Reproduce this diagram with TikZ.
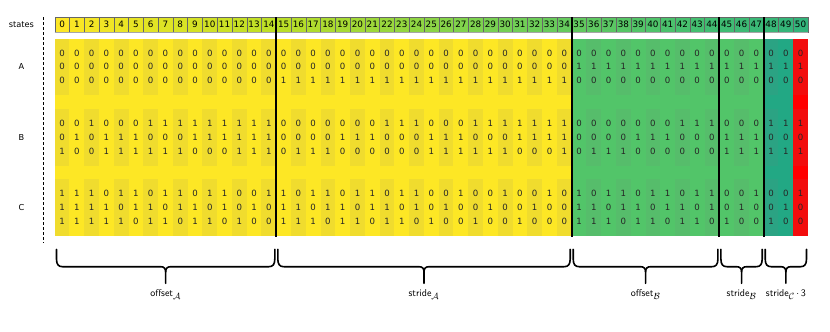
\documentclass[tikz,border=0pt]{standalone}
\usepackage{fontspec}
\newfontfamily\dvs{DejaVu Sans}
\definecolor{vyel}{HTML}{FDE725}
\definecolor{vgrn}{HTML}{52C569}
\definecolor{vteal}{HTML}{22A884}
\definecolor{vred}{HTML}{FF0000}
\definecolor{vv0}{HTML}{FDE725}
\definecolor{vv1}{HTML}{BDDF26}
\definecolor{vv2}{HTML}{7AD151}
\definecolor{vv3}{HTML}{44BF70}
\definecolor{vv4}{HTML}{22A884}
\tikzset{
  digit/.style={font=\dvs\fontsize{8.6}{9}\selectfont, inner sep=0pt, text=black!85},
  hcell/.style={draw=black!60, line width=0.4pt, minimum width=14.77pt, minimum height=15pt, inner sep=0pt, font=\dvs\fontsize{8.8}{9}\selectfont},
  sidelabel/.style={font=\dvs\fontsize{8.2}{9}\selectfont, inner sep=0pt},
  sepline/.style={line width=1.8pt, black},
  bracestyle/.style={line width=1.6pt, black, line cap=round, line join=round},
  bracelabel/.style={font=\sffamily\fontsize{10}{12}\selectfont, inner sep=0pt, anchor=base},
  stripe/.style={fill=black!50, fill opacity=0.1, draw=none}
}
\newcommand\calsub[1]{$_{\mbox{\fontsize{9}{9}\selectfont$\mathcal{#1}$}}$}
\newcommand\digitrow[3]{%
  \foreach \v [count=\c from 0] in {#3} {\node[digit] (#1-\c) at ({54.7+14.77*(\c+0.5)},#2) {\v};}}
\newcommand\drawbrace[4]{% name, left x, right x, label
  \pgfmathsetmacro\bl{#2}\pgfmathsetmacro\br{#3}\pgfmathsetmacro\bm{(#2+#3)/2}
  \coordinate (#1-l) at (\bl,249.3);
  \coordinate (#1-r) at (\br,249.3);
  \coordinate (#1-tip) at (\bm,283.3);
  \draw[bracestyle] (#1-l) -- (\bl,259) .. controls (\bl,264.5) and ({\bl+2},266.7) .. ({\bl+6},266.7)
     -- ({\bm-5},266.7) .. controls ({\bm-1.5},266.7) and (\bm,268.5) .. (\bm,272) -- (#1-tip);
  \draw[bracestyle] (\bm,272) .. controls (\bm,268.5) and ({\bm+1.5},266.7) .. ({\bm+5},266.7)
     -- ({\br-6},266.7) .. controls ({\br-2},266.7) and (\br,264.5) .. (\br,259) -- (#1-r);
  \node[bracelabel] (#1-lab) at (\bm,296.5) {#4};
}
\begin{document}
\begin{tikzpicture}[x=1pt,y=-1pt]
\useasboundingbox (0,0) rectangle (830,332);
% body backgrounds
\fill[vyel] (54.7,39) rectangle (571.7,236);
\fill[vgrn] (571.7,39) rectangle (763.7,236);
\fill[vteal] (763.7,39) rectangle (793.2,236);
\fill[vred] (793.2,39) rectangle (808,236);
% stripes
\foreach \c in {0,2,...,50} {
  \foreach \t in {38.7,109.3,179.3} {
    \fill[stripe] ({54.7+14.77*\c},\t) rectangle ({54.7+14.77*(\c+1)},{\t+56.5});
  }
}
% header
\foreach \c in {0,...,50} {
  \pgfmathsetmacro\s{0.07*\c}
  \pgfmathtruncatemacro\seg{int(\s)}
  \pgfmathtruncatemacro\segn{\seg+1}
  \pgfmathsetmacro\p{(\s-\seg)*100}
  \colorlet{hc}{vv\segn!\p!vv\seg}
  \node[hcell, fill=hc] (h\c) at ({54.7+14.77*(\c+0.5)},24.5) {\c};
}
\draw[black!35, line width=1pt] (54.7,32.6) -- (808,32.6);
% side labels and dashed separator
\node[sidelabel] (lstates) at (21.5,24.5) {states};
\node[sidelabel] (lA) at (21.5,66.7) {A};
\node[sidelabel] (lB) at (21.5,137.3) {B};
\node[sidelabel] (lC) at (21.5,207.3) {C};
\coordinate (dtop) at (43.3,17);
\coordinate (dbot) at (43.3,243);
\draw[densely dashed, line width=0.6pt] (dtop) -- (dbot);
% digits
\digitrow{A1}{52.9}{0,0,0,0,0,0,0,0,0,0,0,0,0,0,0, 0,0,0,0,0,0,0,0,0,0,0,0,0,0,0,0,0,0,0,0, 0,0,0,0,0,0,0,0,0,0,0,0,0,0,0,0}
\digitrow{A2}{66.7}{0,0,0,0,0,0,0,0,0,0,0,0,0,0,0, 0,0,0,0,0,0,0,0,0,0,0,0,0,0,0,0,0,0,0,0, 1,1,1,1,1,1,1,1,1,1,1,1,1,1,1,1}
\digitrow{A3}{80.5}{0,0,0,0,0,0,0,0,0,0,0,0,0,0,0, 1,1,1,1,1,1,1,1,1,1,1,1,1,1,1,1,1,1,1,1, 0,0,0,0,0,0,0,0,0,0,0,0,0,0,0,0}
\digitrow{B1}{123.4}{0,0,1,0,0,0,1,1,1,1,1,1,1,1,1, 0,0,0,0,0,0,0,1,1,1,0,0,0,1,1,1,1,1,1,1, 0,0,0,0,0,0,0,1,1,1,0,0,0,1,1,1}
\digitrow{B2}{137.3}{0,1,0,1,1,1,0,0,0,1,1,1,1,1,1, 0,0,0,0,1,1,1,0,0,0,1,1,1,0,0,0,1,1,1,1, 0,0,0,0,1,1,1,0,0,0,1,1,1,0,0,0}
\digitrow{B3}{151.3}{1,0,0,1,1,1,1,1,1,0,0,0,1,1,1, 0,1,1,1,0,0,0,0,0,0,1,1,1,1,1,1,0,0,0,1, 0,1,1,1,0,0,0,0,0,0,1,1,1,1,1,1}
\digitrow{C1}{193.6}{1,1,1,0,1,1,0,1,1,0,1,1,0,0,1, 1,0,1,1,0,1,1,0,1,1,0,0,1,0,0,1,0,0,1,0, 1,0,1,1,0,1,1,0,1,1,0,0,1,0,0,1}
\digitrow{C2}{207.3}{1,1,1,1,0,1,1,0,1,1,0,1,0,1,0, 1,1,0,1,1,0,1,1,0,1,0,1,0,0,1,0,0,1,0,0, 1,1,0,1,1,0,1,1,0,1,0,1,0,0,1,0}
\digitrow{C3}{221.0}{1,1,1,1,1,0,1,1,0,1,1,0,1,0,0, 1,1,1,0,1,1,0,1,1,0,1,0,0,1,0,0,1,0,0,0, 1,1,1,0,1,1,0,1,1,0,1,0,0,1,0,0}
% thick separators
\foreach \b in {15,35,45,48} {
  \coordinate (s\b-top) at ({54.7+14.77*\b},17);
  \coordinate (s\b-bot) at ({54.7+14.77*\b},236.5);
  \draw[sepline] (s\b-top) -- (s\b-bot);
}
% braces
\drawbrace{bOA}{56.5}{274.8}{offset\calsub{A}}
\drawbrace{bSA}{277.8}{570.2}{stride\calsub{A}}
\drawbrace{bOB}{573.2}{717.9}{offset\calsub{B}}
\drawbrace{bSB}{720.9}{762.2}{stride\calsub{B}}
\drawbrace{bSC}{765.2}{806.5}{stride\calsub{C}\,$\cdot$\,3}
\end{tikzpicture}
\end{document}
